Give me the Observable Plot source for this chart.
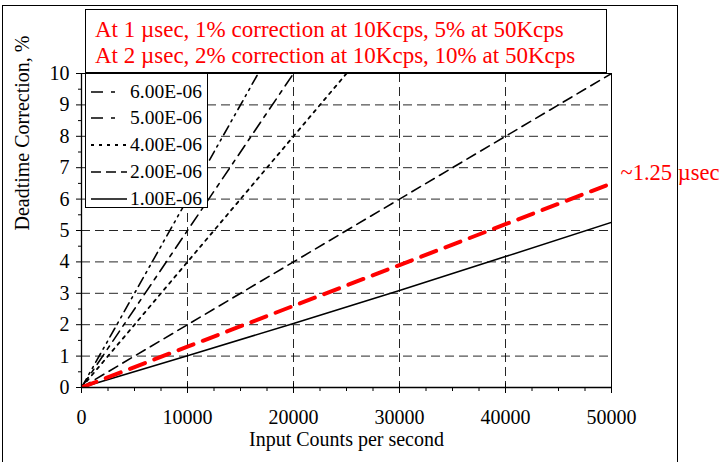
<!DOCTYPE html>
<html><head><meta charset="utf-8">
<script src="https://cdn.jsdelivr.net/npm/d3@7"></script>
<script src="https://cdn.jsdelivr.net/npm/@observablehq/plot@0.6"></script>
<style>
body{margin:0;background:#fff;}
#wrap{position:relative;width:725px;height:462px;overflow:hidden;font-family:"Liberation Serif","Times New Roman",serif;}
#chart{position:absolute;left:0;top:0;}
#border{position:absolute;left:2px;top:5px;width:676px;height:480px;border:1.5px solid #000;box-sizing:border-box;pointer-events:none;}
#title{position:absolute;left:85px;top:9px;width:522px;height:64px;box-sizing:border-box;border:1px solid #000;background:#fff;color:#f00;font-family:"Liberation Serif",serif;font-size:23px;line-height:26px;padding:7px 0 0 9px;white-space:nowrap;}
#legend{position:absolute;left:85px;top:73px;width:123px;height:135px;box-sizing:border-box;border:1px solid #000;background:#fff;}
.row{position:absolute;left:5px;height:27px;display:flex;align-items:center;font-family:"Liberation Serif",serif;font-size:19.5px;white-space:nowrap;}
.row svg{margin-right:3px;}
</style></head>
<body><div id="wrap"><div id="chart"></div><div id="border"></div><div id="title"></div><div id="legend"></div></div>
<script>
// ---- data ----
const titleLines = ["At 1 \u00b5sec, 1% correction at 10Kcps, 5% at 50Kcps", "At 2 \u00b5sec, 2% correction at 10Kcps, 10% at 50Kcps"];
const xTicks = [0, 10000, 20000, 30000, 40000, 50000];
const yTicks = [0, 1, 2, 3, 4, 5, 6, 7, 8, 9, 10];
const seriesNames = ["6.00E-06", "5.00E-06", "4.00E-06", "2.00E-06", "1.00E-06"];
const x6 = [0, 10000, 20000];
const y6 = [0, 6, 12];
const x5 = [0, 10000, 20000];
const y5 = [0, 5, 10];
const x4 = [0, 10000, 20000, 30000];
const y4 = [0, 4, 8, 12];
const x2 = [0, 10000, 20000, 30000, 40000, 50000];
const y2 = [0, 2, 4, 6, 8, 10];
const x1 = [0, 10000, 20000, 30000, 40000, 50000];
const y1 = [0, 1.01, 2.04, 3.09, 4.17, 5.26];
const xRed = [0, 10000, 20000, 30000, 40000, 50000];
const yRed = [0, 1.3, 2.6, 3.9, 5.2, 6.5];
const redLabel = "~1.25 \u00b5sec";
const xTitle = "Input Counts per second";
const yTitle = "Deadtime Correction, %";

const styles = {
  "6.00E-06": {dash: "10,5,2,5,2,5", legendDash: "12,8,4,12", color: "#000", width: 1.6},
  "5.00E-06": {dash: "12,6,4,6", legendDash: "12,8,4,12", color: "#000", width: 1.6},
  "4.00E-06": {dash: "3,5", legendDash: "3,5", color: "#000", width: 1.8},
  "2.00E-06": {dash: "10,6", legendDash: "10,5", color: "#000", width: 1.6},
  "1.00E-06": {dash: null, legendDash: null, color: "#000", width: 1.6}
};
const pts = (xs, ys) => xs.map((x, i) => ({x, y: ys[i]}));
const seriesData = {
  "6.00E-06": pts(x6, y6), "5.00E-06": pts(x5, y5), "4.00E-06": pts(x4, y4),
  "2.00E-06": pts(x2, y2), "1.00E-06": pts(x1, y1)
};
const redData = pts(xRed, yRed);

const yMinor = d3.range(0.5, 10, 1);
const xMinor = d3.range(0, 50001, 2500).filter(v => v % 10000 !== 0);
const yGrid = yTicks.filter(v => v > 0 && v < 10);
const xGrid = xTicks.filter(v => v > 0 && v < 50000);

const lineMarks = seriesNames.map(n => Plot.line(seriesData[n], {
  x: "x", y: "y", stroke: styles[n].color, strokeWidth: styles[n].width,
  strokeDasharray: styles[n].dash || undefined, clip: true
}));

const chart = Plot.plot({
  width: 725, height: 462,
  marginLeft: 81, marginRight: 114, marginTop: 73, marginBottom: 75,
  x: {domain: [0, 50000]},
  y: {domain: [0, 10]},
  style: {fontFamily: "'Liberation Serif','Times New Roman',serif", fontSize: "20px", color: "#000", background: "transparent", overflow: "visible"},
  marks: [
    Plot.ruleY(yGrid, {stroke: "#000", strokeOpacity: 0.85, strokeDasharray: "9,5"}),
    Plot.ruleX(xGrid, {stroke: "#000", strokeOpacity: 0.85, strokeDasharray: "9,5"}),
    Plot.ruleY([10], {stroke: "#000"}),
    Plot.ruleX([50000], {stroke: "#000"}),
    ...lineMarks,
    Plot.line(redData, {x: "x", y: "y", stroke: "#f00", strokeWidth: 4, strokeDasharray: "16,10", clip: true}),
    Plot.ruleY([0], {stroke: "#000", strokeWidth: 1.3}),
    Plot.ruleX([0], {stroke: "#000", strokeWidth: 1.3}),
    Plot.axisX({ticks: xTicks, tickSize: 6, tickPadding: 16, tickFormat: d => String(d), label: null, fontSize: 20}),
    Plot.axisX({ticks: xMinor, tickSize: 4, tickFormat: null, label: null, text: null}),
    Plot.ruleX(xTicks, {y1: 0, y2: 0.13, stroke: "#000"}),
    Plot.axisY({ticks: yTicks, tickSize: 5, tickPadding: 7, tickFormat: d => String(d), label: null, fontSize: 20}),
    Plot.axisY({ticks: yMinor, tickSize: 3, label: null, text: null}),
    Plot.text([xTitle], {frameAnchor: "bottom", dy: 58, fontSize: 20}),
    Plot.text([yTitle], {frameAnchor: "left", dx: -59, rotate: -90, fontSize: 20}),
    Plot.text([{x: 50000, y: 6.85}], {x: "x", y: "y", text: () => redLabel, textAnchor: "start", dx: 9, fill: "#f00", fontSize: 22.5})
  ]
});
document.getElementById("chart").appendChild(chart);

document.getElementById("title").innerHTML = titleLines.map(t => `<div>${t}</div>`).join("");

const legend = document.getElementById("legend");
seriesNames.forEach((n, i) => {
  const row = document.createElement("div");
  row.className = "row";
  row.style.top = (4 + i * 26.8) + "px";
  const s = styles[n];
  row.innerHTML = `<svg width="36" height="10"><line x1="0" y1="5" x2="36" y2="5" stroke="${s.color}" stroke-width="${s.width}" ${s.legendDash ? `stroke-dasharray="${s.legendDash}"` : ""}/></svg><span>${n}</span>`;
  legend.appendChild(row);
});
</script></body></html>
